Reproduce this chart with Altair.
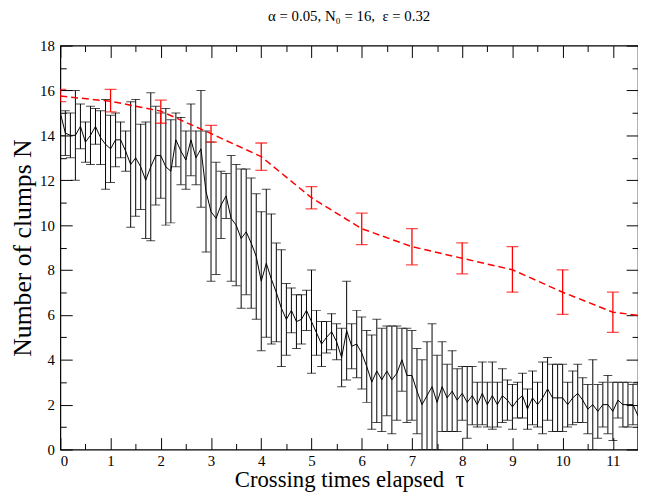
import altair as alt
import pandas as pd

FONT = "Liberation Serif"

# ---- black series (simulation, step 0.1) ----
t_black = [i / 10 for i in range(116)]
n_black = [
    15.0, 14.1, 14.0, 14.0, 14.4, 13.7, 14.0, 14.4, 13.9, 13.6,
    13.4, 13.8, 13.8, 13.3, 12.7, 13.0, 12.6, 12.0, 12.6, 13.1,
    13.1, 12.6, 12.4, 13.8, 13.3, 12.9, 13.8, 13.0, 13.4, 11.5,
    10.6, 10.3, 10.9, 11.3, 10.3, 10.0, 9.4, 9.7, 9.2, 8.6,
    7.5, 8.3, 7.6, 7.0, 6.3, 5.8, 6.2, 5.7, 5.8, 6.2,
    5.7, 5.2, 4.7, 5.0, 5.25, 4.8, 4.1, 5.3, 4.6, 4.7,
    4.3, 3.7, 3.0, 3.5, 3.1, 3.5, 3.1, 3.4, 4.0, 3.3,
    3.3, 2.6, 2.0, 2.4, 2.8, 2.1, 2.8, 2.3, 2.6, 2.2,
    2.5, 2.1, 2.4, 2.0, 2.5, 2.0, 2.4, 2.0, 2.4, 2.2,
    1.9, 2.2, 2.4, 1.8, 2.3, 2.0, 2.3, 2.7, 2.3, 2.3,
    2.3, 2.0, 2.3, 2.5, 2.2, 1.8, 2.0, 1.7, 2.0, 2.0,
    1.7, 2.2, 2.0, 2.0, 2.0, 1.5,
]
e_black = [
    1.0, 1.0, 1.0, 2.0, 1.0, 0.9, 1.3, 0.8, 1.2, 2.0,
    1.5, 1.2, 0.8, 0.9, 2.8, 2.6, 1.9, 2.6, 3.3, 2.2,
    1.9, 2.6, 2.3, 1.2, 1.5, 1.3, 1.6, 1.2, 2.6, 2.7,
    3.1, 2.5, 1.5, 1.0, 2.8, 2.7, 3.1, 2.8, 2.9, 2.8,
    3.1, 3.3, 2.9, 2.2, 2.6, 1.6, 1.0, 1.2, 1.1, 0.9,
    2.3, 1.0, 1.0, 0.7, 0.8, 0.8, 1.3, 2.2, 1.0, 1.5,
    1.6, 1.6, 2.1, 2.3, 2.3, 2.0, 2.4, 2.1, 1.4, 2.1,
    2.0, 1.9, 2.0, 2.4, 2.8, 2.1, 2.0, 1.5, 1.8, 1.4,
    1.2, 1.6, 1.3, 1.0, 1.4, 1.0, 1.5, 1.0, 1.2, 0.9,
    1.0, 0.8, 1.0, 0.9, 1.2, 1.0, 1.6, 1.4, 1.5, 1.5,
    1.5, 1.0, 1.2, 1.3, 1.0, 1.1, 2.0, 1.2, 1.0, 1.3,
    1.3, 0.8, 1.0, 1.0, 0.9, 1.5,
]

# ---- red series (mean field) ----
t_red = [0, 1, 2, 3, 4, 5, 6, 7, 8, 9, 10, 11, 11.5]
n_red = [15.75, 15.52, 15.08, 14.08, 13.05, 11.22, 9.84, 9.04, 8.52, 8.01, 7.01, 6.12, 5.98]
t_red_err = [0, 1, 2, 3, 4, 5, 6, 7, 8, 9, 10, 11]
lo_red = [15.5, 15.05, 14.54, 13.7, 12.44, 10.72, 9.13, 8.23, 7.83, 7.01, 6.02, 5.22]
hi_red = [16.05, 16.05, 15.57, 14.45, 13.66, 11.72, 10.53, 9.84, 9.21, 9.04, 8.01, 7.01]

# tick positions
x_major = list(range(12))
x_minor = [k + 0.5 for k in range(12)]
y_major = list(range(0, 19, 2))
y_minor = list(range(1, 18, 2))

black = pd.DataFrame({
    "t": t_black,
    "n": n_black,
    "lo": [m - e for m, e in zip(n_black, e_black)],
    "hi": [m + e for m, e in zip(n_black, e_black)],
})
red_line = pd.DataFrame({"t": t_red, "n": n_red})
red_err = pd.DataFrame({"t": t_red_err, "lo": lo_red, "hi": hi_red})

xsc = alt.Scale(domain=[0, 11.5], nice=False, zero=False)
ysc = alt.Scale(domain=[0, 18], nice=False, zero=False)

W, H = 585, 409
NB = "\u00a0"


def tick_axis(orient, values, size):
    return alt.Axis(orient=orient, values=values, tickSize=size, offset=-size,
                    labels=False, domain=False, grid=False, ticks=True,
                    tickColor="black", tickWidth=1, title=None)


x_bottom_major = alt.Axis(
    orient="bottom", values=x_major, tickSize=12, offset=-12, labels=True,
    labelPadding=4, labelFontSize=15, labelFont=FONT, labelColor="black",
    domain=False, grid=False, tickColor="black", tickWidth=1, format="d",
    title="Crossing times elapsed" + NB + " τ", titleFont=FONT, titleFontSize=23,
    titleFontWeight="normal", titleColor="black", titleX=W / 2, titleY=49,
    titleAlign="center", titleBaseline="alphabetic",
)
y_left_major = alt.Axis(
    orient="left", values=y_major, tickSize=12, offset=-12, labels=True,
    labelPadding=6, labelFontSize=15, labelFont=FONT, labelColor="black",
    domain=False, grid=False, tickColor="black", tickWidth=1, format="d",
    title="Number of clumps N", titleFont=FONT, titleFontSize=26,
    titleFontWeight="normal", titleColor="black", titleAngle=270,
    titleX=-50, titleY=H / 2, titleAlign="center", titleBaseline="middle",
)

black_line = alt.Chart(black).mark_line(color="black", strokeWidth=1, clip=True).encode(
    x=alt.X("t:Q", scale=xsc, axis=x_bottom_major),
    y=alt.Y("n:Q", scale=ysc, axis=y_left_major),
)
black_bars = alt.Chart(black).mark_rule(color="black", strokeWidth=1, clip=True).encode(
    x=alt.X("t:Q", scale=xsc, axis=tick_axis("bottom", x_minor, 6)),
    y=alt.Y("lo:Q", scale=ysc, axis=tick_axis("left", y_minor, 6)),
    y2="hi:Q",
)
black_caps = alt.Chart(black).transform_fold(["lo", "hi"], as_=["k", "v"]).mark_tick(
    color="black", orient="horizontal", size=9, thickness=1, clip=True
).encode(
    x=alt.X("t:Q", scale=xsc, axis=tick_axis("top", x_major, 12)),
    y=alt.Y("v:Q", scale=ysc, axis=tick_axis("right", y_major, 12)),
)
red_dash = alt.Chart(red_line).mark_line(
    color="#ff0000", strokeWidth=1.5, strokeDash=[7, 4], clip=True
).encode(
    x=alt.X("t:Q", scale=xsc, axis=tick_axis("top", x_minor, 6)),
    y=alt.Y("n:Q", scale=ysc, axis=tick_axis("right", y_minor, 6)),
)
red_bars = alt.Chart(red_err).mark_rule(color="#ff0000", strokeWidth=1.3, clip=True).encode(
    x=alt.X("t:Q", scale=xsc, axis=None),
    y=alt.Y("lo:Q", scale=ysc, axis=None),
    y2="hi:Q",
)
red_caps = alt.Chart(red_err).transform_fold(["lo", "hi"], as_=["k", "v"]).mark_tick(
    color="#ff0000", orient="horizontal", size=12, thickness=1.3, clip=True
).encode(
    x=alt.X("t:Q", scale=xsc, axis=None),
    y=alt.Y("v:Q", scale=ysc, axis=None),
)

chart = alt.layer(
    black_bars, black_caps, black_line, red_bars, red_caps, red_dash
).resolve_axis(
    x="independent", y="independent"
).properties(
    width=W, height=H,
    title=alt.TitleParams(
        "α = 0.05, N₀ = 16," + NB + " ε = 0.32", font=FONT, fontSize=15,
        fontWeight="normal", color="black", anchor="middle", frame="group",
        baseline="alphabetic", offset=3,
    ),
    padding={"left": 53, "top": 35, "right": 0, "bottom": 44},
    autosize=alt.AutoSizeParams(type="none"),
    background="white",
).configure(
    font=FONT,
    style={"guide-label": {"font": FONT}, "guide-title": {"font": FONT}},
).configure_view(
    stroke="black", strokeWidth=1.2
).configure_axis(
    grid=False, labelFont=FONT, titleFont=FONT
)

chart.save("out.html", embed_options={"renderer": "svg", "actions": False})
